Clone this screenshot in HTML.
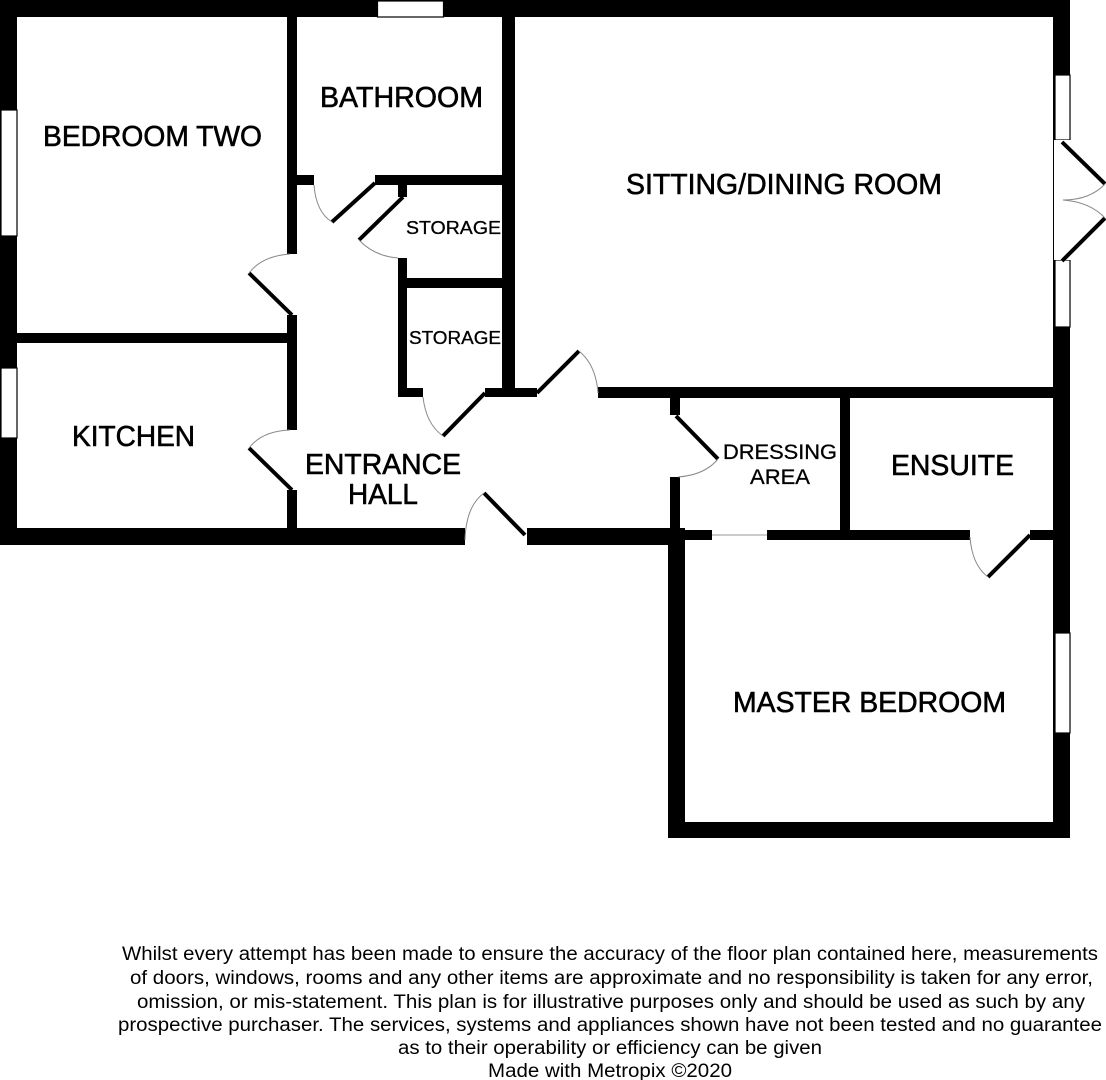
<!DOCTYPE html>
<html><head><meta charset="utf-8"><style>
html,body{margin:0;padding:0;background:#fff;}
svg{display:block;}
.l{font-family:"Liberation Sans",Arial,sans-serif;fill:#000;}
</style></head><body>
<svg width="1106" height="1080" viewBox="0 0 1106 1080" xmlns="http://www.w3.org/2000/svg">
<g fill="#000">
<rect x="0" y="0" width="1070" height="17"/>
<rect x="0" y="0" width="17" height="545"/>
<rect x="1053" y="0" width="17" height="838"/>
<rect x="0" y="528" width="465" height="17"/>
<rect x="527" y="528" width="158" height="17"/>
<rect x="668" y="528" width="17" height="310"/>
<rect x="668" y="822" width="402" height="16"/>
<rect x="287" y="17" width="10" height="237"/>
<rect x="287" y="315" width="10" height="115"/>
<rect x="287" y="490" width="10" height="40"/>
<rect x="17" y="333" width="272" height="10"/>
<rect x="502" y="17" width="13" height="380"/>
<rect x="297" y="175" width="17" height="10"/>
<rect x="375" y="175" width="130" height="10"/>
<rect x="398" y="183" width="9" height="14"/>
<rect x="398" y="258" width="9" height="139"/>
<rect x="405" y="278" width="99" height="10"/>
<rect x="398" y="388" width="25" height="9"/>
<rect x="485" y="388" width="52" height="9"/>
<rect x="598" y="387" width="457" height="11"/>
<rect x="670" y="396" width="10" height="19"/>
<rect x="670" y="477" width="10" height="60"/>
<rect x="840" y="396" width="10" height="136"/>
<rect x="680" y="530" width="32" height="10"/>
<rect x="767" y="530" width="203" height="10"/>
<rect x="1030" y="530" width="25" height="10"/>
</g>
<g fill="#fff" stroke="#000" stroke-width="1.2">
<rect x="377.5" y="1" width="66" height="16"/>
<rect x="1" y="110" width="16" height="126"/>
<rect x="1" y="368" width="16" height="70"/>
<rect x="1055" y="75" width="15" height="65"/>
<rect x="1055" y="260" width="15" height="67"/>
<rect x="1055" y="633" width="15" height="100"/>
</g>
<rect x="1054" y="140" width="17" height="120" fill="#fff"/>
<line x1="712" y1="535" x2="767" y2="535" stroke="#999" stroke-width="1"/>
<g stroke="#000" stroke-width="4" stroke-linecap="butt">
<line x1="375" y1="183" x2="332" y2="222"/>
<line x1="403" y1="197" x2="359" y2="240"/>
<line x1="249" y1="273" x2="292" y2="315"/>
<line x1="249" y1="448" x2="292" y2="490"/>
<line x1="485" y1="393" x2="443" y2="436"/>
<line x1="537" y1="393" x2="579" y2="351"/>
<line x1="484" y1="493" x2="525" y2="535"/>
<line x1="676" y1="416" x2="718" y2="459"/>
<line x1="1030" y1="535" x2="988" y2="577"/>
<line x1="1062" y1="142" x2="1105" y2="184"/>
<line x1="1105" y1="218" x2="1062" y2="261"/>
</g>
<g stroke="#888" stroke-width="1" fill="none">
<path d="M314,185 Q316,212 332,222"/>
<path d="M359,240 Q374,256 398,258"/>
<path d="M249,273 Q262,256 290,254"/>
<path d="M249,448 Q262,431 290,430"/>
<path d="M423,397 Q426,424 443,436"/>
<path d="M579,351 Q596,365 598,393"/>
<path d="M465,540 Q466,506 484,493"/>
<path d="M718,459 Q705,475 678,477"/>
<path d="M970,537 Q972,565 988,577"/>
<path d="M1105,184 Q1090,200 1063,200"/>
<path d="M1105,218 Q1090,202 1063,200"/>
</g>
<g class="l" font-size="29" stroke="#000" stroke-width="0.6">
<text x="43" y="146" textLength="219" lengthAdjust="spacingAndGlyphs">BEDROOM TWO</text>
<text x="320" y="107" textLength="163" lengthAdjust="spacingAndGlyphs">BATHROOM</text>
<text x="626" y="194" textLength="316" lengthAdjust="spacingAndGlyphs">SITTING/DINING ROOM</text>
<text x="72" y="446" textLength="123" lengthAdjust="spacingAndGlyphs">KITCHEN</text>
<text x="305" y="474" textLength="156" lengthAdjust="spacingAndGlyphs">ENTRANCE</text>
<text x="348" y="504" textLength="70" lengthAdjust="spacingAndGlyphs">HALL</text>
<text x="891" y="475" textLength="123" lengthAdjust="spacingAndGlyphs">ENSUITE</text>
<text x="733" y="712" textLength="273" lengthAdjust="spacingAndGlyphs">MASTER BEDROOM</text>
</g>
<g class="l" font-size="18" stroke="#000" stroke-width="0.3">
<text x="406" y="234" textLength="95" lengthAdjust="spacingAndGlyphs">STORAGE</text>
<text x="409" y="344" textLength="92" lengthAdjust="spacingAndGlyphs">STORAGE</text>
</g>
<g class="l" font-size="21" stroke="#000" stroke-width="0.3">
<text x="723" y="459" textLength="114" lengthAdjust="spacingAndGlyphs">DRESSING</text>
<text x="750" y="484" textLength="60" lengthAdjust="spacingAndGlyphs">AREA</text>
</g>
<g class="l" font-size="19">
<text x="122" y="960" textLength="976" lengthAdjust="spacingAndGlyphs">Whilst every attempt has been made to ensure the accuracy of the floor plan contained here, measurements</text>
<text x="130" y="984" textLength="963" lengthAdjust="spacingAndGlyphs">of doors, windows, rooms and any other items are approximate and no responsibility is taken for any error,</text>
<text x="137" y="1008" textLength="948" lengthAdjust="spacingAndGlyphs">omission, or mis-statement. This plan is for illustrative purposes only and should be used as such by any</text>
<text x="118" y="1031" textLength="984" lengthAdjust="spacingAndGlyphs">prospective purchaser. The services, systems and appliances shown have not been tested and no guarantee</text>
<text x="398" y="1054" textLength="424" lengthAdjust="spacingAndGlyphs">as to their operability or efficiency can be given</text>
<text x="488" y="1077" textLength="244" lengthAdjust="spacingAndGlyphs">Made with Metropix ©2020</text>
</g>
</svg>
</body></html>
